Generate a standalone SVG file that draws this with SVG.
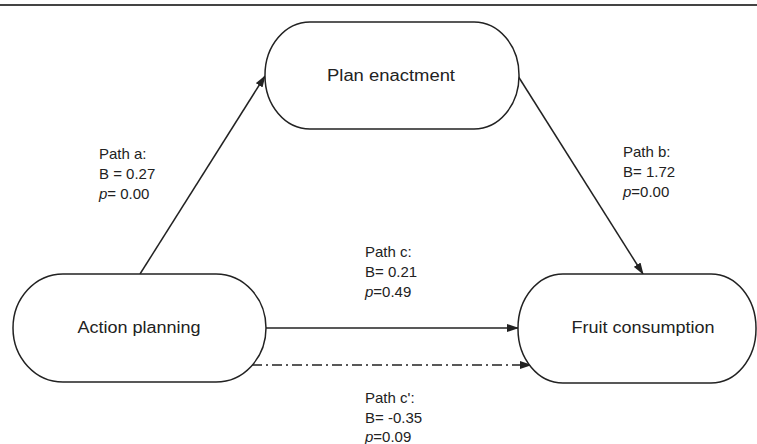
<svg xmlns="http://www.w3.org/2000/svg" width="757" height="444" viewBox="0 0 757 444">
<defs>
<marker id="ah" markerWidth="12" markerHeight="8" refX="11" refY="4" orient="auto" markerUnits="userSpaceOnUse">
<path d="M0,0 L12,4 L0,8 Z" fill="#222"/>
</marker>
<style>
.node{fill:#fff;stroke:#222;stroke-width:1.5}
.nt{font-family:"Liberation Sans",Arial,sans-serif;font-size:16px;fill:#222;text-anchor:middle}
.lb{font-family:"Liberation Sans",Arial,sans-serif;font-size:15px;fill:#222}
.edge{stroke:#222;stroke-width:1.5;fill:none}
</style>
</defs>
<rect width="757" height="444" fill="#fff"/>
<line x1="0" y1="5" x2="757" y2="5" stroke="#444" stroke-width="2"/>
<g id="connectors">
<line class="edge" x1="140" y1="274" x2="265" y2="76" marker-end="url(#ah)"/>
<line class="edge" x1="518" y1="76" x2="643" y2="274" marker-end="url(#ah)"/>
<line class="edge" x1="266" y1="328" x2="518" y2="328" marker-end="url(#ah)"/>
<line class="edge" x1="252" y1="365" x2="531" y2="365" stroke-dasharray="10 4 2 4" marker-end="url(#ah)"/>
</g>
<g id="plan-enactment">
<rect class="node" x="265" y="22" width="254" height="107" rx="45" ry="53"/>
<text class="nt" x="391" y="81" textLength="128" lengthAdjust="spacingAndGlyphs">Plan enactment</text>
</g>
<g id="action-planning">
<rect class="node" x="13" y="274" width="253" height="108" rx="50" ry="54"/>
<text class="nt" x="139" y="333" textLength="123" lengthAdjust="spacingAndGlyphs">Action planning</text>
</g>
<g id="fruit-consumption">
<rect class="node" x="518" y="274" width="238" height="109" rx="45" ry="54"/>
<text class="nt" x="643" y="333" textLength="143" lengthAdjust="spacingAndGlyphs">Fruit consumption</text>
</g>
<g id="labels">
<text class="lb" x="99" y="159">Path a:</text>
<text class="lb" x="99" y="179">B = 0.27</text>
<text class="lb" x="99" y="199"><tspan font-style="italic">p</tspan>= 0.00</text>
<text class="lb" x="623" y="157">Path b:</text>
<text class="lb" x="623" y="177">B= 1.72</text>
<text class="lb" x="623" y="197"><tspan font-style="italic">p</tspan>=0.00</text>
<text class="lb" x="365" y="257">Path c:</text>
<text class="lb" x="365" y="277">B= 0.21</text>
<text class="lb" x="365" y="297"><tspan font-style="italic">p</tspan>=0.49</text>
<text class="lb" x="365" y="403">Path c':</text>
<text class="lb" x="365" y="423">B= -0.35</text>
<text class="lb" x="365" y="442"><tspan font-style="italic">p</tspan>=0.09</text>
</g>
</svg>
